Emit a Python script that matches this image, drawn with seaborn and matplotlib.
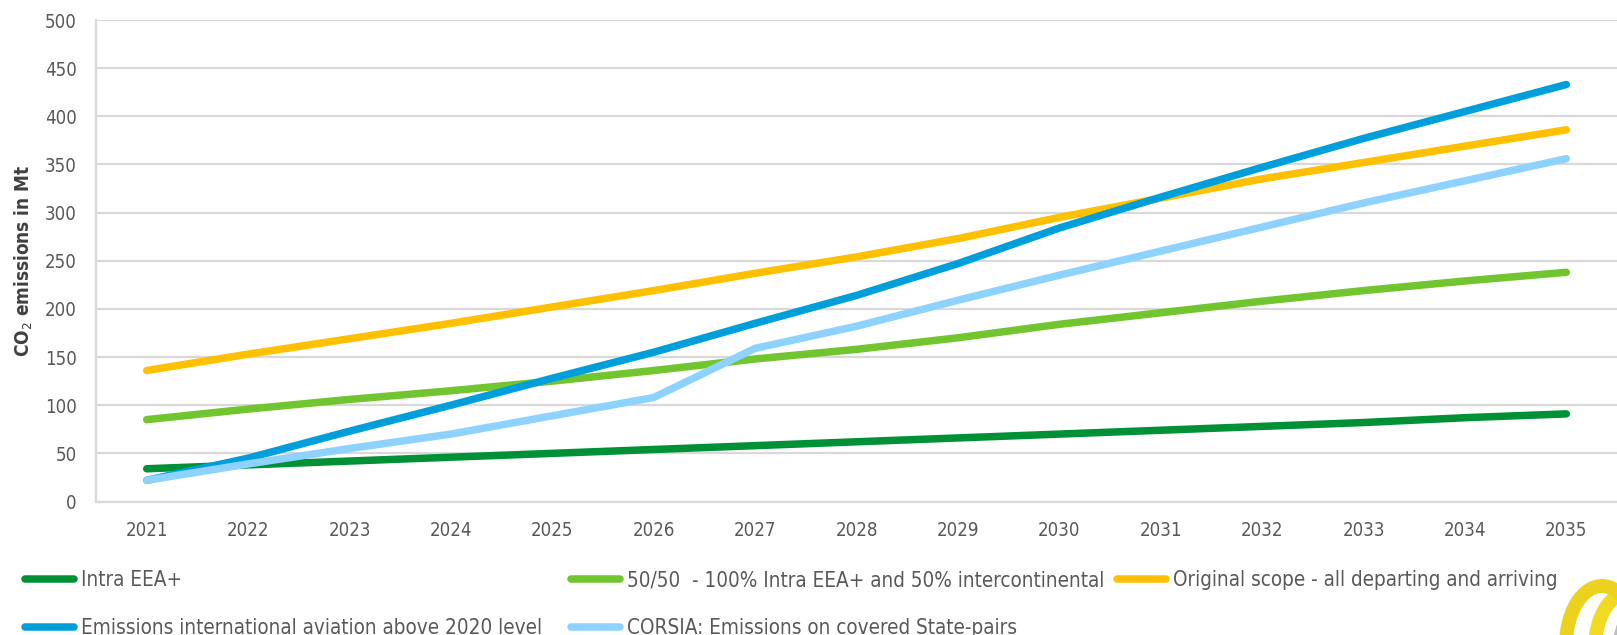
import matplotlib
matplotlib.use("Agg")
import matplotlib.pyplot as plt
from matplotlib import font_manager
from matplotlib.patches import Ellipse
import seaborn as sns
import pandas as pd

# Years on the x axis
years = list(range(2021, 2036))

# CO2 emissions (Mt) per scope
intra_eea = [34, 38, 42, 46, 50, 54, 58, 62, 66, 70, 74, 78, 82, 87, 91]
half_half = [85, 96, 106, 115, 125, 136, 148, 158, 170, 184, 196, 208, 219, 229, 238]
original_scope = [136, 153, 169, 185, 202, 219, 237, 254, 273, 295, 315, 335, 352, 369, 386]
intl_above_2020 = [22, 45, 73, 100, 128, 155, 185, 214, 247, 284, 316, 347, 377, 405, 433]
corsia_pairs = [22, 39, 55, 70, 89, 108, 159, 182, 209, 235, 260, 285, 310, 333, 356]

series_names = [
    "Intra EEA+",
    "Emissions international aviation above 2020 level",
    "50/50  - 100% Intra EEA+ and 50% intercontinental",
    "CORSIA: Emissions on covered State-pairs",
    "Original scope - all departing and arriving",
]
series_values = [intra_eea, intl_above_2020, half_half, corsia_pairs, original_scope]
series_colors = ["#009136", "#009FDB", "#71C52F", "#8ED3FF", "#FFC000"]
draw_order = [0, 2, 4, 1, 3]  # back-to-front stacking of the lines

y_ticks = [0, 50, 100, 150, 200, 250, 300, 350, 400, 450, 500]

df = pd.DataFrame(
    [(name, yr, v) for name, vals in zip(series_names, series_values) for yr, v in zip(years, vals)],
    columns=["scope", "year", "emissions"],
)

sns.set_theme(style="white")

# Prefer a condensed humanist face for all text
has_condensed = any(
    f.name == "DejaVu Sans" and f.stretch in ("condensed", 87.5, "semi-condensed")
    for f in font_manager.fontManager.ttflist
)
if has_condensed:
    plt.rcParams["font.family"] = ["DejaVu Sans"]
    plt.rcParams["font.stretch"] = "condensed"
    tick_size, legend_size, ylab_size = 13.4, 14.9, 13.6
else:
    plt.rcParams["font.family"] = ["Liberation Sans", "DejaVu Sans"]
    tick_size, legend_size, ylab_size = 14.5, 15.2, 14.5

W, H = 1617, 635
fig = plt.figure(figsize=(W / 100, H / 100), dpi=100)
ax = fig.add_axes([96 / W, 1 - 501.5 / H, (W - 96) / W, (501.5 - 20) / H])

grid_col = "#D9D9D9"
text_col = "#595959"
lw = 5.4

handles = {}
for i in draw_order:
    name = series_names[i]
    sns.lineplot(
        data=df[df["scope"] == name], x="year", y="emissions",
        color=series_colors[i], linewidth=lw, solid_capstyle="round",
        legend=False, ax=ax, zorder=3 + draw_order.index(i),
    )
    handles[name] = ax.lines[-1]

ax.set_xlim(2020.5, 2035.5)
ax.set_ylim(0, 500)
ax.set_xticks(years)
ax.set_xticklabels([str(y) for y in years])
ax.set_yticks(y_ticks)
ax.yaxis.grid(True, color=grid_col, linewidth=1.6)
ax.xaxis.grid(False)
ax.set_axisbelow(True)
for side in ("top", "right"):
    ax.spines[side].set_visible(False)
for side in ("left", "bottom"):
    ax.spines[side].set_color(grid_col)
    ax.spines[side].set_linewidth(1.6)
ax.tick_params(axis="both", length=0, labelsize=tick_size, labelcolor=text_col)
ax.tick_params(axis="x", pad=14)
ax.tick_params(axis="y", pad=14)
ax.set_xlabel("")
ax.set_ylabel("CO$_2$ emissions in Mt", fontsize=ylab_size, fontweight="bold", color="#404040")
ax.yaxis.set_label_coords(-(96 - 35) / (W - 96), 0.5)

# Legend: three columns placed at fixed horizontal positions
fs_px = legend_size * 100 / 72
cap = lw * 100 / 72 / 2
legend_cols = [
    (21, [series_names[0], series_names[1]]),
    (567, [series_names[2], series_names[3]]),
    (1113, [series_names[4]]),
]
for x_px, names in legend_cols:
    leg = fig.legend(
        [handles[n] for n in names], names,
        loc="upper left", bbox_to_anchor=((x_px + cap) / W, 1 - 570 / H),
        frameon=False, fontsize=legend_size, labelcolor=text_col,
        handlelength=(57 - 2 * cap) / fs_px, handletextpad=(81 - 78 + cap) / fs_px,
        labelspacing=1.36, borderpad=0, borderaxespad=0,
    )
    for ln in leg.get_lines():
        ln.set_linewidth(lw)
        ln.set_solid_capstyle("round")

# Corner emblem: interlocking rings
rings = [
    ((1602 / W, 1 - 645 / H), 72 / W, 118 / H, "#ECD21E"),
    ((1630 / W, 1 - 648 / H), 70 / W, 112 / H, "#F2DA22"),
    ((1652 / W, 1 - 652 / H), 66 / W, 100 / H, "#BDBDBD"),
]
for center, w, h, col in rings[::-1]:
    fig.patches.append(Ellipse(center, w, h, fill=False, edgecolor=col,
                               linewidth=10, transform=fig.transFigure, zorder=10))

fig.savefig("out.png", dpi=100)
